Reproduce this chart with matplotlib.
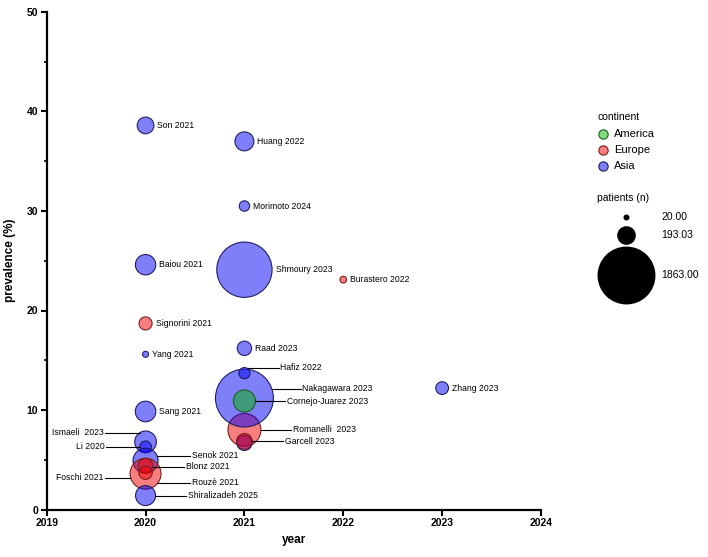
import numpy as np
import matplotlib
matplotlib.use('Agg')
import matplotlib.pyplot as plt

plt.rcParams['font.family'] = ['Liberation Sans', 'DejaVu Sans']

# study data (drawn in this order, later circles on top)
study = ['Son 2021', 'Huang 2022', 'Morimoto 2024', 'Baiou 2021', 'Shmoury 2023',
         'Burastero 2022', 'Signorini 2021', 'Yang 2021', 'Raad 2023', 'Zhang 2023',
         'Romanelli  2023', 'Nakagawara 2023', 'Hafiz 2022', 'Cornejo-Juarez 2023', '',
         'Garcell 2023', 'Sang 2021', 'Ismaeli  2023', 'Li 2020', 'Senok 2021',
         'Foschi 2021', 'Blonz 2021', 'Rouzè 2021', 'Shiralizadeh 2025']
year = [2020, 2021, 2021, 2020, 2021,
        2022, 2020, 2020, 2021, 2023,
        2021, 2021, 2021, 2021, 2021,
        2021, 2020, 2020, 2020, 2020,
        2020, 2020, 2020, 2020]
prevalence = [38.6, 37.0, 30.5, 24.6, 24.1,
              23.1, 18.7, 15.6, 16.2, 12.2,
              8.0, 11.2, 13.7, 10.9, 6.7,
              6.85, 9.85, 6.8, 6.3, 4.9,
              3.6, 4.4, 3.7, 1.4]
patients = [155, 200, 60, 230, 1700,
            25, 95, 20, 115, 90,
            600, 1863, 70, 270, 130,
            137, 235, 260, 76, 350,
            530, 120, 100, 222]
continent = ['Asia', 'Asia', 'Asia', 'Asia', 'Asia',
             'Europe', 'Europe', 'Asia', 'Asia', 'Asia',
             'Europe', 'Asia', 'Asia', 'America', 'Asia',
             'Europe', 'Asia', 'Asia', 'Asia', 'Asia',
             'Europe', 'Europe', 'Europe', 'Asia']

continents = ['America', 'Europe', 'Asia']
face = {'America': (0.0, 0.72, 0.0, 0.5), 'Europe': (0.95, 0.0, 0.0, 0.5), 'Asia': (0.0, 0.0, 0.97, 0.5)}
edge = {'America': '#1d5e1d', 'Europe': '#7a1f1f', 'Asia': '#1f1f66'}

legend_n = [20, 193.03, 1863]


def diam_px(n):
    return 6 * np.sqrt(np.asarray(n, dtype=float) / 20)


def size_pts(n):
    return (diam_px(n) * 0.72) ** 2


# leader-line labels: name -> (text dx px, dy px (down), line start dx px)
leaders = {
    'Ismaeli  2023': (-42, -9, -6),
    'Li 2020': (-41, 0, -6),
    'Foschi 2021': (-42, 4, -15.5),
    'Senok 2021': (46, -5, 11),
    'Blonz 2021': (40, 1, 7),
    'Rouzè 2021': (46, 10, 11.5),
    'Shiralizadeh 2025': (42, 0, 10),
    'Hafiz 2022': (36, -5.5, 3.5),
    'Nakagawara 2023': (58, -9.5, 27.5),
    'Cornejo-Juarez 2023': (42.5, 0, 11),
    'Romanelli  2023': (48.5, 0, 16.5),
    'Garcell 2023': (40.5, 0, 7.5),
}

W, H = 708, 557
fig = plt.figure(figsize=(W / 100, H / 100), dpi=100)
ax = fig.add_axes([46.7 / W, 1 - 509.5 / H, (541 - 46.7) / W, (509.5 - 12) / H])
ax.set_xlim(2019, 2024)
ax.set_ylim(0, 50)

ax.scatter(year, prevalence, s=size_pts(patients),
           facecolors=[face[c] for c in continent],
           edgecolors=[edge[c] for c in continent],
           linewidths=0.8, clip_on=False, zorder=3)

ax.set_xticks(range(2019, 2025))
ax.set_yticks(range(0, 51, 10))
ax.set_yticks(range(5, 50, 10), minor=True)
for s in ['top', 'right']:
    ax.spines[s].set_visible(False)
for s in ['left', 'bottom']:
    ax.spines[s].set_linewidth(1.6)
ax.tick_params(axis='both', which='major', direction='out', length=4, width=1.5,
               labelsize=7.5, pad=2)
ax.tick_params(axis='y', which='minor', direction='out', length=2.5, width=1.2)
for lab in ax.get_xticklabels() + ax.get_yticklabels():
    lab.set_fontweight('bold')

ax.set_xlabel('year', fontsize=8.5, fontweight='bold')
ax.set_ylabel('prevalence (%)', fontsize=8.5, fontweight='bold')
ax.xaxis.set_label_coords(0.5, -0.05)
ax.yaxis.set_label_coords(-0.063, 0.5)

inv = ax.transData.inverted()


def px_to_data(xd, yd, dx, dy):
    px, py = ax.transData.transform((xd, yd))
    # dx right, dy down in image pixels
    return inv.transform((px + dx, py - dy))


for name, x, y, n in zip(study, year, prevalence, patients):
    if not name:
        continue
    r = diam_px(n) / 2
    if name in leaders:
        tdx, tdy, ldx = leaders[name]
        side = 1 if tdx > 0 else -1
        tx, ty = px_to_data(x, y, tdx, tdy)
        l0 = px_to_data(x, y, ldx, tdy)
        l1 = px_to_data(x, y, tdx - side * 1.5, tdy)
        ax.plot([l0[0], l1[0]], [l0[1], l1[1]], color='black', lw=0.8,
                clip_on=False, zorder=4)
        ax.text(tx, ty, name, fontsize=6.2, ha='left' if side > 0 else 'right',
                va='center', zorder=5)
    else:
        tx, ty = px_to_data(x, y, r + 3.5, 0)
        ax.text(tx, ty, name, fontsize=6.2, ha='left', va='center', zorder=5)

# legend panel in pixel coordinates
lax = fig.add_axes([0, 0, 1, 1])
lax.set_xlim(0, W)
lax.set_ylim(H, 0)
lax.axis('off')
lax.patch.set_alpha(0)

lax.text(597, 117, 'continent', fontsize=7.5, va='center', ha='left')
for i, c in enumerate(continents):
    yy = 134 + 16 * i
    lax.scatter([602.5], [yy], s=(9.3 * 0.72) ** 2, facecolors=[face[c]],
                edgecolors=[edge[c]], linewidths=0.8)
    lax.text(614, yy, c, fontsize=8, va='center', ha='left')

lax.text(597, 198, 'patients (n)', fontsize=7.5, va='center', ha='left')
for v, yy in zip(legend_n, [217, 235, 275]):
    lax.scatter([626], [yy], s=size_pts(v), color='black', linewidths=0)
    lax.text(661, yy, f'{v:.2f}', fontsize=7.5, va='center', ha='left')

fig.savefig('out.png', dpi=100)
